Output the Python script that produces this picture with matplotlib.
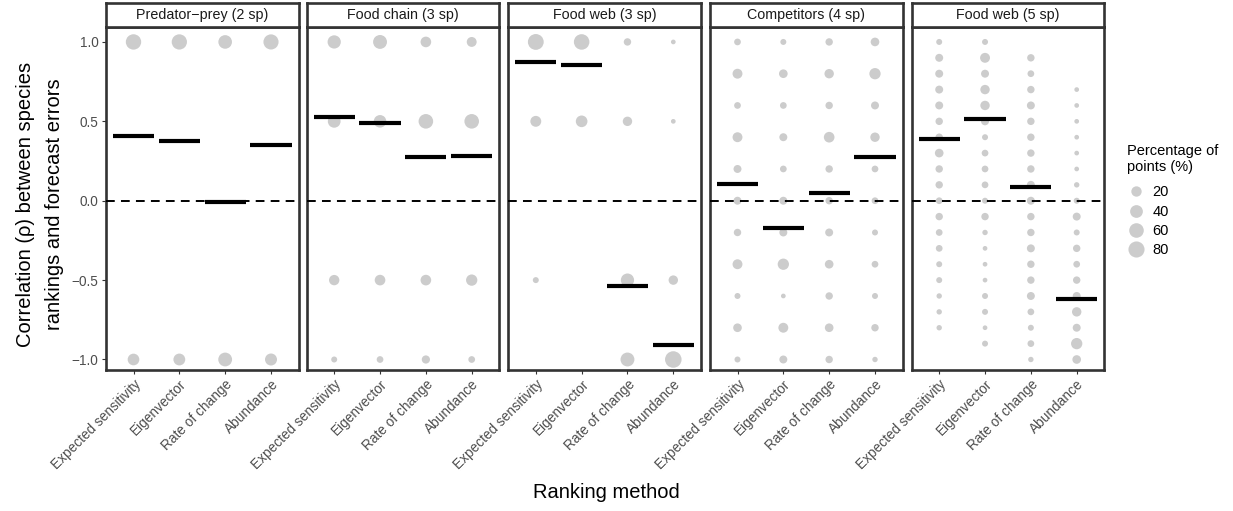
import matplotlib
matplotlib.use('Agg')
import matplotlib.pyplot as plt
import numpy as np
from matplotlib.lines import Line2D

plt.rcParams['font.family'] = ['Liberation Sans', 'DejaVu Sans']

# ---------------- data ----------------
methods = ["Expected sensitivity", "Eigenvector", "Rate of change", "Abundance"]
panels = ["Predator\u2212prey (2 sp)", "Food chain (3 sp)", "Food web (3 sp)",
          "Competitors (4 sp)", "Food web (5 sp)"]

rho_2sp = [1.0, -1.0]
rho_3sp = [1.0, 0.5, -0.5, -1.0]
rho_4sp = [1.0, 0.8, 0.6, 0.4, 0.2, 0.0, -0.2, -0.4, -0.6, -0.8, -1.0]
rho_5sp = [1.0, 0.9, 0.8, 0.7, 0.6, 0.5, 0.4, 0.3, 0.2, 0.1, 0.0,
           -0.1, -0.2, -0.3, -0.4, -0.5, -0.6, -0.7, -0.8, -0.9, -1.0]

# percentage of points at each correlation value (per ranking method)
pct_predprey = [[70, 30], [68.5, 31.5], [49, 51], [67, 33]]
pct_foodchain = [[45, 40, 20, 1.5], [52, 38, 22, 3], [22, 60, 22, 8], [17, 60, 27, 3]]
pct_foodweb3 = [[76, 24, 1.5, 0], [72, 30, 0, 0], [5, 14, 45, 52], [0.5, 0.5, 14, 86]]
pct_comp = [
    [3, 17, 3, 17, 7, 7, 5, 17, 1.5, 10, 1.5],
    [1.5, 10, 3, 7, 3, 7, 7, 27, 0.5, 17, 7],
    [5, 14, 5, 22, 5, 5, 7, 10, 5, 10, 5],
    [10, 27, 7, 14, 3, 3, 1.5, 3, 1.5, 5, 0.8],
]
pct_foodweb5 = [
    [1.5, 7, 7, 7, 7, 5, 5, 10, 5, 5, 3, 5, 3, 3, 1.5, 1.5, 0.8, 0.8, 0.8, 0, 0],
    [1.5, 17, 7, 14, 14, 7, 1.5, 3, 3, 3, 1.5, 5, 0.8, 0.5, 0.5, 0.5, 1.5, 1.5, 0.5, 1.5, 0],
    [0, 5, 3, 5, 7, 5, 5, 5, 5, 7, 7, 5, 5, 7, 5, 5, 7, 3, 1.5, 3, 0.8],
    [0, 0, 0, 0.5, 0.5, 0.5, 0.5, 0.5, 0.5, 0.8, 1.5, 7, 1.5, 5, 3, 5, 7, 14, 7, 27, 10],
]

# mean correlation per method
mean_predprey = [0.405, 0.374, -0.01, 0.349]
mean_foodchain = [0.525, 0.487, 0.273, 0.279]
mean_foodweb3 = [0.872, 0.853, -0.534, -0.908]
mean_comp = [0.103, -0.170, 0.046, 0.273]
mean_foodweb5 = [0.387, 0.513, 0.084, -0.616]

legend_breaks = [20, 40, 60, 80]

panel_data = [
    (rho_2sp, pct_predprey, mean_predprey),
    (rho_3sp, pct_foodchain, mean_foodchain),
    (rho_3sp, pct_foodweb3, mean_foodweb3),
    (rho_4sp, pct_comp, mean_comp),
    (rho_5sp, pct_foodweb5, mean_foodweb5),
]

# ---------------- layout ----------------
W, H = 1233, 511
DPI = 100
fig = plt.figure(figsize=(W / DPI, H / DPI), dpi=DPI)


def px_rect(x0, y0, x1, y1):
    return [x0 / W, 1 - y1 / H, (x1 - x0) / W, (y1 - y0) / H]


def diam_pt(p):
    p = np.asarray(p, dtype=float)
    return (4.7 + 1.28 * np.sqrt(np.maximum(p - 0.5, 0))) * 72 / DPI


POINT_COL = '#CCCCCC'
BORDER_COL = '#333333'
TICK_COL = '#4D4D4D'

lefts = [106, 306.7, 508.3, 710, 911.7]
pw = 192.5
top, bottom = 26.7, 369.5
strip_top = 2.5

for i, (lab, (rho, pcts, means)) in enumerate(zip(panels, panel_data)):
    l = lefts[i]
    ax = fig.add_axes(px_rect(l, top, l + pw, bottom))
    rho_arr = np.array(rho)
    for j in range(len(methods)):
        p = np.array(pcts[j], dtype=float)
        m = p > 0
        ax.scatter(np.full(m.sum(), j + 1), rho_arr[m], s=diam_pt(p[m]) ** 2,
                   c=POINT_COL, linewidths=0, zorder=2)
        ax.plot([j + 1 - 0.45, j + 1 + 0.45], [means[j], means[j]], color='black',
                lw=3.0, solid_capstyle='butt', zorder=4)
    ax.axhline(0, color='black', lw=1.4, ls=(0, (4.5, 3.2)), zorder=3)
    ax.set_xlim(0.4, 4.6)
    ax.set_ylim(-1.063, 1.096)
    for s in ax.spines.values():
        s.set_color(BORDER_COL)
        s.set_linewidth(1.9)
    ax.set_xticks([1, 2, 3, 4])
    ax.set_xticklabels(methods, rotation=45, ha='right', va='top',
                       rotation_mode='anchor', fontsize=9.8, color=TICK_COL)
    ax.tick_params(axis='both', length=3.0, width=0.8, color=BORDER_COL, pad=2.5)
    ax.set_yticks([1.0, 0.5, 0.0, -0.5, -1.0])
    if i == 0:
        ax.set_yticklabels(['1.0', '0.5', '0.0', '\u22120.5', '\u22121.0'],
                           fontsize=9.8, color=TICK_COL)
    else:
        ax.tick_params(axis='y', left=False, labelleft=False)

    sax = fig.add_axes(px_rect(l, strip_top, l + pw, top))
    sax.set_xticks([])
    sax.set_yticks([])
    sax.set_facecolor('white')
    for s in sax.spines.values():
        s.set_color(BORDER_COL)
        s.set_linewidth(1.9)
    sax.text(0.5, 0.5, lab, ha='center', va='center', fontsize=10.3,
             color='#1A1A1A', transform=sax.transAxes)

fig.text(606 / W, 1 - 492 / H, 'Ranking method', ha='center', va='center', fontsize=14.5)
fig.text(40 / W, 1 - 204 / H, 'Correlation (\u03c1) between species\nrankings and forecast errors',
         ha='center', va='center', rotation=90, fontsize=14.5, linespacing=1.7)

handles = [Line2D([], [], marker='o', linestyle='', markersize=float(diam_pt(v)),
                  markerfacecolor=POINT_COL, markeredgewidth=0) for v in legend_breaks]
leg = fig.legend(handles, [str(v) for v in legend_breaks],
                 title='Percentage of\npoints (%)', loc='upper left',
                 bbox_to_anchor=(1127 / W, 1 - 144 / H), frameon=False,
                 borderpad=0, borderaxespad=0, fontsize=10.5, title_fontsize=10.5,
                 handlelength=1.2, handletextpad=0.55, labelspacing=0.37, alignment='left')
leg._legend_box.sep = 8

fig.savefig('out.png', dpi=DPI)
